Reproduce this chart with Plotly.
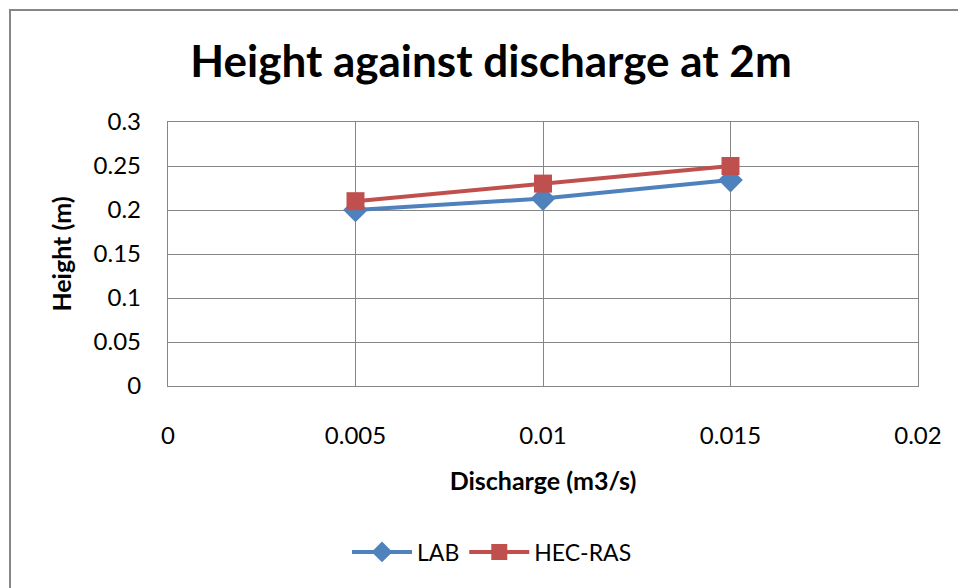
import plotly.graph_objects as go

discharge = [0.005, 0.01, 0.015]
lab_height = [0.200, 0.213, 0.234]
hecras_height = [0.210, 0.230, 0.250]
x_ticks = [0, 0.005, 0.01, 0.015, 0.02]
x_tick_labels = ["0", "0.005", "0.01", "0.015", "0.02"]
y_ticks = [0, 0.05, 0.1, 0.15, 0.2, 0.25, 0.3]
y_tick_labels = ["0", "0.05", "0.1", "0.15", "0.2", "0.25", "0.3"]

FONT = "Lato, Calibri, sans-serif"

fig = go.Figure()
fig.add_trace(go.Scatter(
    x=discharge, y=lab_height, name="LAB", mode="lines+markers",
    line=dict(color="#4F81BD", width=4),
    marker=dict(symbol="diamond", size=19, color="#4F81BD"),
))
fig.add_trace(go.Scatter(
    x=discharge, y=hecras_height, name="HEC-RAS", mode="lines+markers",
    line=dict(color="#C0504D", width=4),
    marker=dict(symbol="square", size=18, color="#C0504D"),
))

L, R, T, B = 168, 40, 122, 202
W, H = 958, 588
pw, ph = W - L - R, H - T - B

def px(x):
    return (x - L) / pw

def py(y):
    return (H - B - y) / ph

fig.update_layout(
    width=W, height=H,
    margin=dict(l=L, r=R, t=T, b=B),
    paper_bgcolor="white", plot_bgcolor="white",
    font=dict(family=FONT, color="black", size=23),
    title=dict(text="<b>Height against discharge at 2m</b>", x=px(491), xref="paper",
               xanchor="center", y=1 - 62 / H, yanchor="middle",
               font=dict(size=44, family=FONT)),
    showlegend=True,
    legend=dict(orientation="h", x=px(492), xanchor="center", y=py(552), yanchor="middle",
                font=dict(size=23, family=FONT), itemwidth=60, tracegroupgap=0),
    xaxis=dict(range=[0, 0.02], tickvals=x_ticks, ticktext=x_tick_labels,
               showgrid=True, gridcolor="#868686", gridwidth=1.3,
               showline=True, linecolor="#868686", linewidth=1.3, mirror=True,
               zeroline=False, ticks="", ticklabelstandoff=28,
               tickfont=dict(size=24, family=FONT),
               title=dict(text="<b>Discharge (m3/s)</b>", font=dict(size=25, family=FONT), standoff=24)),
    yaxis=dict(range=[0, 0.3], tickvals=y_ticks, ticktext=y_tick_labels,
               showgrid=True, gridcolor="#868686", gridwidth=1.3,
               showline=True, linecolor="#868686", linewidth=1.3, mirror=True,
               zeroline=False, ticks="", ticklabelstandoff=21,
               tickfont=dict(size=24, family=FONT),
               title=dict(text="<b>Height (m)</b>", font=dict(size=25, family=FONT), standoff=14)),
    shapes=[dict(type="rect", xref="paper", yref="paper",
                 x0=px(10), x1=px(990), y0=py(620), y1=py(10),
                 line=dict(color="#868686", width=2), fillcolor="rgba(0,0,0,0)", layer="below")],
)

fig.write_html("out.html")
